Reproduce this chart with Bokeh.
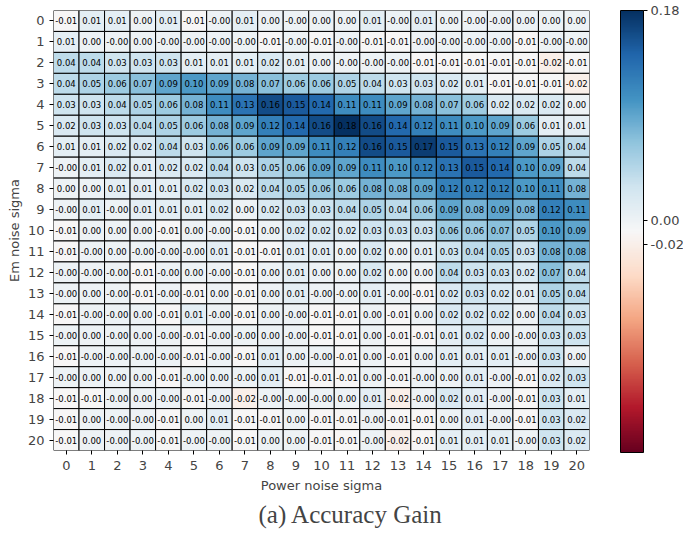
import numpy as np
from bokeh.plotting import figure
from bokeh.models import (ColumnDataSource, LinearColorMapper, ColorBar, FixedTicker,
                          PrintfTickFormatter, Range1d, Title)
from bokeh.transform import transform
from bokeh.core.properties import value
from bokeh.embed import file_html
from bokeh.resources import INLINE

# Power noise sigma (columns) and Em noise sigma (rows)
power_sigma = list(range(21))
em_sigma = list(range(21))

gain_r00 = [-0.01, 0.01, 0.01, 0.00, 0.01, -0.01, -0.0, 0.01, 0.00, -0.0, 0.00, 0.00, 0.01, -0.0, 0.01, 0.00, -0.0, -0.0, 0.00, 0.00, 0.00]
gain_r01 = [0.01, 0.00, -0.0, 0.00, -0.0, -0.0, -0.0, -0.0, -0.01, -0.0, -0.01, -0.0, -0.01, -0.01, -0.0, -0.0, -0.0, -0.0, -0.01, -0.0, -0.0]
gain_r02 = [0.04, 0.04, 0.03, 0.03, 0.03, 0.01, 0.01, 0.01, 0.02, 0.01, 0.00, -0.0, -0.0, -0.0, -0.01, -0.01, -0.01, -0.01, -0.01, -0.02, -0.01]
gain_r03 = [0.04, 0.05, 0.06, 0.07, 0.09, 0.10, 0.09, 0.08, 0.07, 0.06, 0.06, 0.05, 0.04, 0.03, 0.03, 0.02, 0.01, -0.01, -0.01, -0.01, -0.02]
gain_r04 = [0.03, 0.03, 0.04, 0.05, 0.06, 0.08, 0.11, 0.13, 0.16, 0.15, 0.14, 0.11, 0.11, 0.09, 0.08, 0.07, 0.06, 0.02, 0.02, 0.02, 0.00]
gain_r05 = [0.02, 0.03, 0.03, 0.04, 0.05, 0.06, 0.08, 0.09, 0.12, 0.14, 0.16, 0.18, 0.16, 0.14, 0.12, 0.11, 0.10, 0.09, 0.06, 0.01, 0.01]
gain_r06 = [0.01, 0.01, 0.02, 0.02, 0.04, 0.03, 0.06, 0.06, 0.09, 0.09, 0.11, 0.12, 0.16, 0.15, 0.17, 0.15, 0.13, 0.12, 0.09, 0.05, 0.04]
gain_r07 = [-0.0, 0.01, 0.02, 0.01, 0.02, 0.02, 0.04, 0.03, 0.05, 0.06, 0.09, 0.09, 0.11, 0.10, 0.12, 0.13, 0.15, 0.14, 0.10, 0.09, 0.04]
gain_r08 = [0.00, 0.00, 0.01, 0.01, 0.01, 0.02, 0.03, 0.02, 0.04, 0.05, 0.06, 0.06, 0.08, 0.08, 0.09, 0.12, 0.12, 0.12, 0.10, 0.11, 0.08]
gain_r09 = [-0.0, 0.01, -0.0, 0.01, 0.01, 0.01, 0.02, 0.00, 0.02, 0.03, 0.03, 0.04, 0.05, 0.04, 0.06, 0.09, 0.08, 0.09, 0.08, 0.12, 0.11]
gain_r10 = [-0.01, 0.00, 0.00, 0.00, -0.01, 0.00, -0.0, -0.01, 0.00, 0.02, 0.02, 0.02, 0.03, 0.03, 0.03, 0.06, 0.06, 0.07, 0.05, 0.10, 0.09]
gain_r11 = [-0.01, -0.0, 0.00, -0.0, -0.0, -0.0, 0.01, -0.01, -0.01, 0.01, 0.01, 0.00, 0.02, 0.00, 0.01, 0.03, 0.04, 0.05, 0.03, 0.08, 0.08]
gain_r12 = [-0.0, -0.0, -0.0, -0.01, -0.0, 0.00, -0.0, -0.01, 0.00, 0.01, 0.00, 0.00, 0.02, 0.00, 0.00, 0.04, 0.03, 0.03, 0.02, 0.07, 0.04]
gain_r13 = [-0.0, 0.00, -0.0, -0.01, -0.0, -0.01, 0.00, -0.01, 0.00, 0.01, -0.0, -0.0, 0.01, -0.0, -0.01, 0.02, 0.03, 0.02, 0.01, 0.05, 0.04]
gain_r14 = [-0.01, -0.0, -0.0, 0.00, -0.01, 0.01, -0.0, -0.01, 0.00, -0.0, -0.01, -0.01, 0.00, -0.01, 0.00, 0.02, 0.02, 0.02, 0.00, 0.04, 0.03]
gain_r15 = [-0.0, 0.00, -0.0, 0.00, -0.0, -0.01, -0.0, -0.0, 0.00, -0.0, -0.01, -0.01, 0.00, -0.01, -0.01, 0.01, 0.02, 0.00, -0.0, 0.03, 0.03]
gain_r16 = [-0.01, -0.0, -0.0, -0.0, -0.0, -0.01, -0.0, -0.01, 0.01, 0.00, -0.0, -0.01, 0.00, -0.01, 0.00, 0.01, 0.01, 0.01, -0.0, 0.03, 0.00]
gain_r17 = [-0.0, 0.00, 0.00, 0.00, -0.01, -0.0, 0.00, -0.0, 0.01, -0.01, -0.01, -0.01, 0.00, -0.01, -0.0, 0.00, 0.01, -0.0, -0.01, 0.02, 0.03]
gain_r18 = [-0.01, -0.01, -0.0, 0.00, -0.0, -0.01, -0.0, -0.02, -0.0, -0.0, -0.0, 0.00, 0.01, -0.02, -0.0, 0.02, 0.01, -0.0, -0.01, 0.03, 0.01]
gain_r19 = [-0.01, 0.00, -0.0, -0.0, -0.01, 0.00, 0.01, -0.01, -0.01, 0.00, -0.01, -0.01, -0.0, -0.01, -0.01, 0.00, 0.01, -0.0, -0.01, 0.03, 0.02]
gain_r20 = [-0.01, 0.00, -0.0, -0.0, -0.01, -0.0, -0.0, -0.01, 0.00, 0.00, -0.01, -0.01, -0.0, -0.02, -0.01, 0.01, 0.01, 0.01, -0.0, 0.03, 0.02]

rows = [gain_r00, gain_r01, gain_r02, gain_r03, gain_r04, gain_r05, gain_r06,
        gain_r07, gain_r08, gain_r09, gain_r10, gain_r11, gain_r12, gain_r13,
        gain_r14, gain_r15, gain_r16, gain_r17, gain_r18, gain_r19, gain_r20]

colorbar_ticks = [-0.02, 0.0, 0.18]

xs, ys, vals, labels = [], [], [], []
for r, row in zip(em_sigma, rows):
    for c, v in zip(power_sigma, row):
        xs.append(c)
        ys.append(r)
        vals.append(v)
        labels.append(f"{v:.2f}")
source = ColumnDataSource(dict(x=xs, y=ys, v=vals, label=labels))

# matplotlib RdBu colormap anchors
anchors = ["#67001f", "#b2182b", "#d6604d", "#f4a582", "#fddbc7", "#f7f7f7",
           "#d1e5f0", "#92c5de", "#4393c3", "#2166ac", "#053061"]
rgb = np.array([[int(h[i:i + 2], 16) for i in (1, 3, 5)] for h in anchors], dtype=float)
pos = np.linspace(0, 1, len(anchors))
t = np.linspace(0, 1, 256)
palette = []
for tt in t:
    col = [np.interp(tt, pos, rgb[:, k]) for k in range(3)]
    palette.append("#%02x%02x%02x" % tuple(int(round(c)) for c in col))

mapper = LinearColorMapper(palette=palette, low=-0.198, high=0.18)

W, H = 683, 537
ML, MT, MR, MB = 53, 10, 94, 87
p = figure(width=W, height=H, x_range=Range1d(-0.5, 20.5), y_range=Range1d(20.5, -0.5),
           output_backend="svg", toolbar_location=None, title=None,
           min_border_left=ML, min_border_top=MT, min_border_right=MR, min_border_bottom=MB)
p.outline_line_color = None
p.xgrid.visible = False
p.ygrid.visible = False

p.rect(x="x", y="y", width=1, height=1, source=source,
       fill_color=transform("v", mapper), line_color="black", line_width=1)
p.text(x="x", y="y", text="label", source=source, text_align="center",
       text_baseline="middle", text_font_size="8.5px", text_font=value("DejaVu Sans"),
       text_color="black")

for ax, lab in ((p.xaxis[0], "Power noise sigma"), (p.yaxis[0], "Em noise sigma")):
    ax.ticker = FixedTicker(ticks=power_sigma)
    ax.axis_label = lab
    ax.axis_label_text_font = "DejaVu Sans"
    ax.axis_label_text_font_style = "normal"
    ax.axis_label_text_font_size = "13px"
    ax.major_label_text_font = "DejaVu Sans"
    ax.major_label_text_font_size = "13px"
    ax.axis_line_color = None
    ax.major_tick_in = 0
    ax.major_tick_out = 4
    ax.major_tick_line_color = "black"
    ax.minor_tick_line_color = None
p.xaxis.major_label_standoff = 6
p.xaxis.axis_label_standoff = 5
p.yaxis.major_label_standoff = 5
p.yaxis.axis_label_standoff = 3

fw = W - ML - MR
cb = ColorBar(color_mapper=mapper, location=(fw + 31, -2), width=23, height=442,
              padding=0, margin=0, bar_line_color="black", bar_line_width=1,
              ticker=FixedTicker(ticks=colorbar_ticks),
              formatter=PrintfTickFormatter(format="%.2f"),
              major_tick_in=0, major_tick_out=4, major_tick_line_color="black",
              minor_tick_line_color=None, label_standoff=3,
              major_label_text_font="DejaVu Sans", major_label_text_font_size="13px",
              background_fill_alpha=0, border_line_color=None)
p.add_layout(cb, "center")

caption = Title(text="(a) Accuracy Gain", align="left", text_font="Liberation Serif",
                text_font_size="25px", text_font_style="normal", offset=205, standoff=7)
p.add_layout(caption, "below")

open("out.html", "w").write(file_html(p, INLINE))
